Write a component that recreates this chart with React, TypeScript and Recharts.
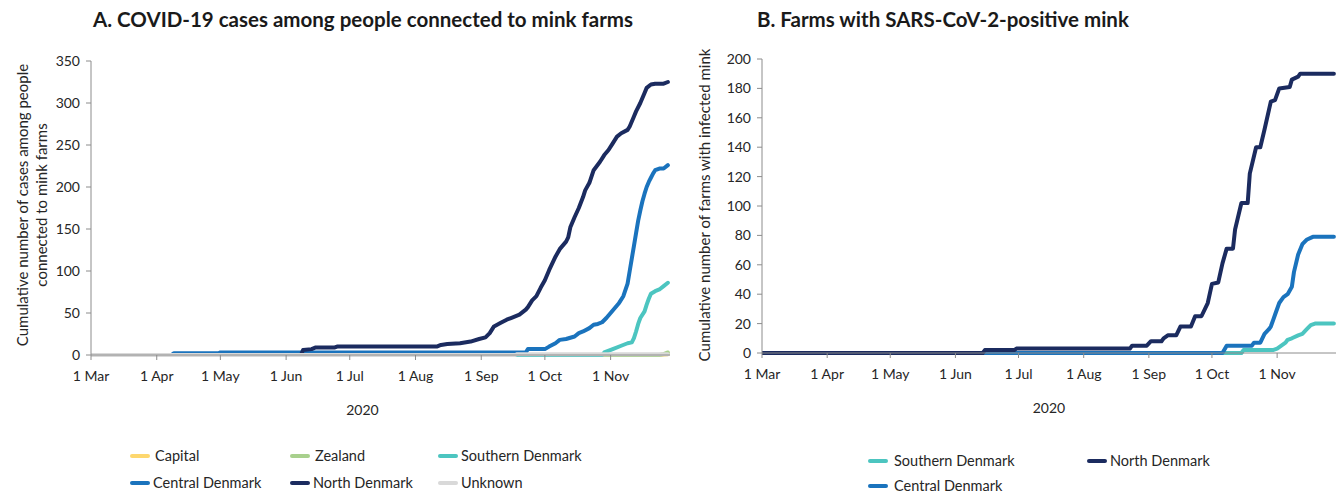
import React from 'react';
import { LineChart, Line, XAxis, YAxis, Label } from 'recharts';

// x values = days since 1 March 2020
const monthTicks = [0, 31, 61, 92, 122, 153, 184, 214, 245];
const monthLabels = ['1 Mar', '1 Apr', '1 May', '1 Jun', '1 Jul', '1 Aug', '1 Sep', '1 Oct', '1 Nov'];
const casesTicks = [0, 50, 100, 150, 200, 250, 300, 350];
const farmsTicks = [0, 20, 40, 60, 80, 100, 120, 140, 160, 180, 200];

// Panel A: cumulative cases among people connected to mink farms
const capitalCases: [number, number][] = [[0, 0], [268, 0], [272, 1]];
const zealandCases: [number, number][] = [[0, 0], [268, 0], [270, 1], [272, 3]];
const southernCases: [number, number][] = [
  [0, 0], [241, 0], [242, 3], [246, 7], [250, 11], [253, 14], [255, 15], [256, 20], [257, 28],
  [258, 37], [259, 44], [261, 52], [262, 60], [263, 67], [264, 73], [266, 76], [268, 78], [270, 82], [272, 86],
];
const centralCases: [number, number][] = [
  [0, 0], [38, 0], [39, 2], [60, 2], [61, 3], [205, 3], [206, 7], [214, 7], [216, 10], [219, 14],
  [221, 18], [224, 19], [228, 22], [230, 26], [232, 28], [235, 32], [237, 36], [239, 37], [241, 39],
  [243, 44], [245, 50], [247, 56], [249, 62], [251, 70], [253, 85], [254, 100], [255, 115], [256, 130],
  [257, 145], [258, 160], [259, 172], [260, 183], [261, 192], [262, 200], [263, 206], [264, 211],
  [265, 216], [266, 220], [268, 222], [270, 222], [272, 226],
];
const northCases: [number, number][] = [
  [0, 0], [99, 0], [100, 6], [104, 7], [106, 9], [115, 9], [116, 10], [163, 10], [165, 12], [168, 13],
  [174, 14], [179, 16], [183, 19], [186, 21], [188, 26], [190, 34], [193, 38], [196, 42], [198, 44],
  [202, 48], [205, 54], [206, 57], [208, 65], [210, 70], [212, 80], [214, 89], [216, 101], [219, 117],
  [221, 126], [222, 129], [224, 135], [225, 140], [226, 152], [228, 164], [230, 175], [232, 188],
  [233, 196], [235, 205], [237, 220], [240, 230], [242, 238], [244, 244], [246, 252], [248, 260],
  [250, 264], [253, 268], [254, 272], [256, 284], [257, 290], [259, 300], [261, 312], [262, 318],
  [264, 322], [266, 323], [270, 323], [272, 325],
];
const unknownCases: [number, number][] = [[0, 0], [200, 0], [201, 1], [272, 1]];

// Panel B: cumulative number of farms with SARS-CoV-2-positive mink
const southernFarms: [number, number][] = [
  [0, 0], [228, 0], [229, 2], [243, 2], [245, 3], [247, 5], [249, 7], [250, 9], [252, 10], [255, 12],
  [257, 13], [259, 16], [261, 19], [263, 20], [272, 20],
];
const centralFarms: [number, number][] = [
  [0, 0], [219, 0], [221, 5], [233, 5], [234, 7], [237, 7], [239, 13], [241, 16], [242, 18], [244, 26],
  [246, 34], [248, 38], [250, 40], [252, 45], [253, 55], [255, 67], [257, 74], [259, 77], [262, 79], [272, 79],
];
const northFarms: [number, number][] = [
  [0, 0], [105, 0], [106, 2], [120, 2], [121, 3], [175, 3], [176, 5], [183, 5], [185, 8], [190, 8],
  [191, 10], [193, 12], [197, 12], [199, 18], [204, 18], [206, 25], [209, 25], [212, 34], [214, 47],
  [217, 48], [219, 61], [221, 71], [224, 71], [225, 84], [228, 102], [231, 102], [232, 122], [235, 140],
  [237, 140], [239, 152], [242, 171], [244, 172], [246, 180], [251, 181], [252, 186], [255, 188],
  [256, 190], [272, 190],
];

const COLORS = {
  capital: '#fdd76e',
  zealand: '#a8d08d',
  southern: '#4cc5c0',
  central: '#1a73bd',
  north: '#1b2b5f',
  unknown: '#d9d9d9',
};

const FONT = 'Lato, "Noto Sans", sans-serif';
const TEXT = '#262626';
const AXIS = '#8c8c8c';

const pts = (arr: [number, number][]) => arr.map(([d, v]) => ({ d, v }));

const lineProps = {
  dataKey: 'v',
  type: 'linear' as const,
  strokeWidth: 4,
  dot: false,
  activeDot: false,
  isAnimationActive: false,
  strokeLinejoin: 'round' as const,
  strokeLinecap: 'round' as const,
};

const tickStyle = { fill: TEXT, fontSize: 14, fontFamily: FONT };

const LegendItem = ({ color, label, x, y, gap = 5 }: { color: string; label: string; x: number; y: number; gap?: number }) => (
  <div style={{ position: 'absolute', left: x, top: y - 8, height: 16, display: 'flex', alignItems: 'center', whiteSpace: 'nowrap' }}>
    <div style={{ width: 20, height: 4, borderRadius: 2, background: color, marginRight: gap }} />
    <span style={{ fontSize: 14.5, lineHeight: '16px', color: TEXT, fontFamily: FONT }}>{label}</span>
  </div>
);

export default function App() {
  return (
    <div style={{ position: 'absolute', left: 0, top: 0, width: 1341, height: 494, background: '#fff', fontFamily: FONT, overflow: 'hidden' }}>
      <div style={{ position: 'absolute', left: 93, top: 7, fontSize: 20.5, fontWeight: 700, color: '#1a1a1a', whiteSpace: 'nowrap' }}>
        A. COVID-19 cases among people connected to mink farms
      </div>
      <div style={{ position: 'absolute', left: 757, top: 7, fontSize: 20.5, fontWeight: 700, color: '#1a1a1a', whiteSpace: 'nowrap' }}>
        B. Farms with SARS-CoV-2-positive mink
      </div>

      <div style={{ position: 'absolute', left: 0, top: 0 }}>
        <LineChart width={680} height={494} margin={{ top: 61, right: 10, bottom: 109, left: 31 }}>
          <XAxis
            dataKey="d"
            type="number"
            domain={[0, 273]}
            ticks={monthTicks}
            tickFormatter={(d: number) => monthLabels[monthTicks.indexOf(d)]}
            tick={tickStyle}
            tickSize={5}
            tickMargin={11}
            stroke={AXIS}
            allowDataOverflow
          >
            <Label value="2020" position="bottom" offset={20} dx={-18} style={{ fill: TEXT, fontSize: 14, fontFamily: FONT }} />
          </XAxis>
          <YAxis
            type="number"
            domain={[0, 350]}
            ticks={casesTicks}
            tick={tickStyle}
            tickSize={5}
            tickMargin={6}
            stroke={AXIS}
            width={60}
          >
            <Label
              content={() => (
                <text textAnchor="middle" fill={TEXT} fontSize={15} fontFamily={FONT} transform="rotate(-90)">
                  <tspan x={-205} y={28}>Cumulative number of cases among people</tspan>
                  <tspan x={-205} y={47}>connected to mink farms</tspan>
                </text>
              )}
            />
          </YAxis>
          <Line data={pts(capitalCases)} stroke={COLORS.capital} {...lineProps} />
          <Line data={pts(zealandCases)} stroke={COLORS.zealand} {...lineProps} />
          <Line data={pts(southernCases)} stroke={COLORS.southern} {...lineProps} />
          <Line data={pts(centralCases)} stroke={COLORS.central} {...lineProps} />
          <Line data={pts(northCases)} stroke={COLORS.north} {...lineProps} />
          <Line data={pts(unknownCases)} stroke={COLORS.unknown} {...lineProps} />
        </LineChart>
      </div>

      <div style={{ position: 'absolute', left: 680, top: 0 }}>
        <LineChart width={661} height={494} margin={{ top: 59, right: 5, bottom: 111, left: 22 }}>
          <XAxis
            dataKey="d"
            type="number"
            domain={[0, 273]}
            ticks={monthTicks}
            tickFormatter={(d: number) => monthLabels[monthTicks.indexOf(d)]}
            tick={tickStyle}
            tickSize={5}
            tickMargin={11}
            stroke={AXIS}
            allowDataOverflow
          >
            <Label value="2020" position="bottom" offset={20} style={{ fill: TEXT, fontSize: 14, fontFamily: FONT }} />
          </XAxis>
          <YAxis
            type="number"
            domain={[0, 200]}
            ticks={farmsTicks}
            tick={tickStyle}
            tickSize={5}
            tickMargin={6}
            stroke={AXIS}
            width={60}
          >
            <Label
              content={() => (
                <text textAnchor="middle" fill={TEXT} fontSize={15} fontFamily={FONT} transform="rotate(-90)">
                  <tspan x={-205} y={30}>Cumulative number of farms with infected mink</tspan>
                </text>
              )}
            />
          </YAxis>
          <Line data={pts(southernFarms)} stroke={COLORS.southern} {...lineProps} />
          <Line data={pts(centralFarms)} stroke={COLORS.central} {...lineProps} />
          <Line data={pts(northFarms)} stroke={COLORS.north} {...lineProps} />
        </LineChart>
      </div>

      <LegendItem color={COLORS.capital} label="Capital" x={130} y={456} />
      <LegendItem color={COLORS.zealand} label="Zealand" x={290} y={456} />
      <LegendItem color={COLORS.southern} label="Southern Denmark" x={438} y={456} gap={3} />
      <LegendItem color={COLORS.central} label="Central Denmark" x={130} y={483} gap={3} />
      <LegendItem color={COLORS.north} label="North Denmark" x={290} y={483} gap={3} />
      <LegendItem color={COLORS.unknown} label="Unknown" x={438} y={483} gap={3} />

      <LegendItem color={COLORS.southern} label="Southern Denmark" x={868} y={461} gap={6} />
      <LegendItem color={COLORS.north} label="North Denmark" x={1087} y={461} gap={3} />
      <LegendItem color={COLORS.central} label="Central Denmark" x={868} y={486} gap={6} />
    </div>
  );
}
